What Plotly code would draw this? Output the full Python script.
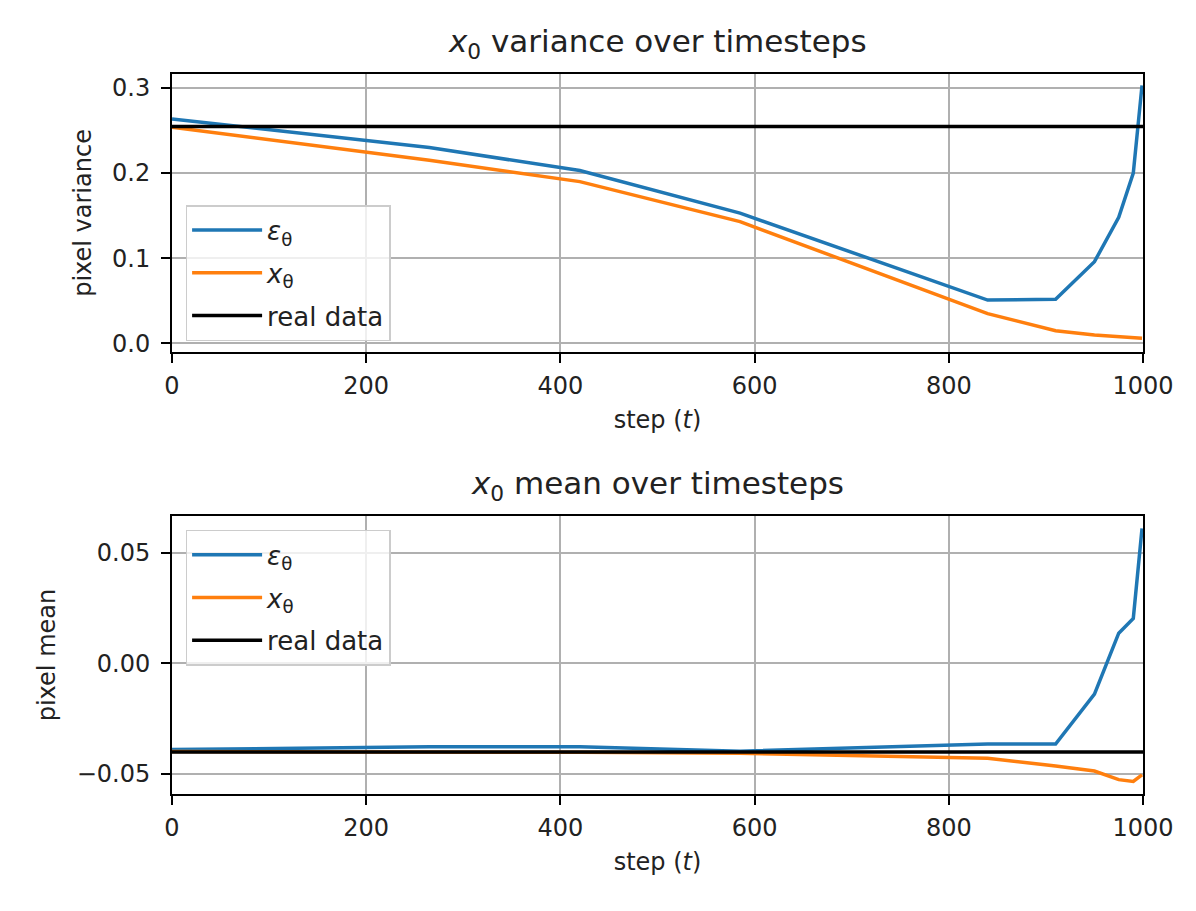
import numpy as np
import plotly.graph_objects as go
from plotly.subplots import make_subplots

# sampled timesteps
steps = [0, 265, 420, 585, 840, 910, 950, 975, 990, 999]

# pixel variance of x0
var_eps = [0.2635, 0.230, 0.203, 0.153, 0.051, 0.052, 0.096, 0.148, 0.200, 0.303]
var_x = [0.2537, 0.215, 0.190, 0.143, 0.035, 0.015, 0.010, 0.0078, 0.0065, 0.006]
var_real = 0.2548

# pixel mean of x0
mean_eps = [-0.0391, -0.0378, -0.0378, -0.0398, -0.0366, -0.0366, -0.0140, 0.0136, 0.0203, 0.0610]
mean_x = [-0.0400, -0.0401, -0.0403, -0.0408, -0.0430, -0.0465, -0.0488, -0.0527, -0.0535, -0.0505]
mean_real = -0.0402

BLUE = "#1f77b4"
ORANGE = "#ff7f0e"
FONT = "DejaVu Sans"
TXT = "#222"

fig = make_subplots(rows=2, cols=1, vertical_spacing=0.228)

def add_panel(row, eps, xt, real, legend):
    fig.add_trace(go.Scatter(x=steps, y=eps, mode="lines", name="<i>ε</i><sub>θ</sub>",
                             line=dict(color=BLUE, width=3.5), legend=legend,
                             legendgroup=legend + "a"), row=row, col=1)
    fig.add_trace(go.Scatter(x=steps, y=xt, mode="lines", name="<i>x</i><sub>θ</sub>",
                             line=dict(color=ORANGE, width=3.5), legend=legend,
                             legendgroup=legend + "b"), row=row, col=1)
    fig.add_trace(go.Scatter(x=[0, 1000], y=[real, real], mode="lines", name="real data",
                             line=dict(color="black", width=3.5), legend=legend,
                             legendgroup=legend + "c"), row=row, col=1)

add_panel(1, var_eps, var_x, var_real, "legend")
add_panel(2, mean_eps, mean_x, mean_real, "legend2")

axis_style = dict(showline=True, linecolor="black", linewidth=2, mirror=True,
                  ticks="outside", ticklen=9, tickwidth=2, tickcolor="black",
                  showgrid=True, gridcolor="#b0b0b0", gridwidth=1.6, zeroline=False,
                  tickfont=dict(size=24, color=TXT))

fig.update_xaxes(axis_style, range=[0, 1000], tickvals=[0, 200, 400, 600, 800, 1000],
                 ticklabelstandoff=2,
                 title=dict(text="step (<i>t</i>)", font=dict(size=24, color=TXT), standoff=12))
fig.update_yaxes(axis_style, ticklabelstandoff=6)
fig.update_yaxes(range=[-0.0099, 0.3163], tickvals=[0.0, 0.1, 0.2, 0.3], tickformat=".1f",
                 title=dict(text="pixel variance", font=dict(size=24, color=TXT), standoff=14),
                 row=1, col=1)
fig.update_yaxes(range=[-0.0592, 0.0666], tickvals=[-0.05, 0.0, 0.05], tickformat=".2f",
                 title=dict(text="pixel mean", font=dict(size=24, color=TXT), standoff=14),
                 row=2, col=1)

legend_style = dict(bgcolor="rgba(255,255,255,0.8)", bordercolor="#cccccc", borderwidth=1.5,
                    font=dict(size=26, color=TXT, family=FONT), xanchor="left", yanchor="top",
                    itemwidth=70, tracegroupgap=6)

fig.update_layout(
    width=1196, height=911,
    template="plotly_white",
    plot_bgcolor="white", paper_bgcolor="white",
    font=dict(family=FONT, color=TXT),
    margin=dict(l=172, r=53, t=74, b=117),
    legend=dict(legend_style, x=0.014, y=0.818),
    legend2=dict(legend_style, x=0.014, y=0.367),
    annotations=[
        dict(text="<i>x</i><sub>0</sub> variance over timesteps", x=0.5, y=1.0, xref="paper",
             yref="paper", xanchor="center", yanchor="bottom", yshift=8, showarrow=False,
             font=dict(size=31, color=TXT)),
        dict(text="<i>x</i><sub>0</sub> mean over timesteps", x=0.5, y=0.386, xref="paper",
             yref="paper", xanchor="center", yanchor="bottom", yshift=8, showarrow=False,
             font=dict(size=31, color=TXT)),
    ],
)

fig.write_html("out.html", config={"displayModeBar": False},
               post_script="document.body.style.margin='0';")
